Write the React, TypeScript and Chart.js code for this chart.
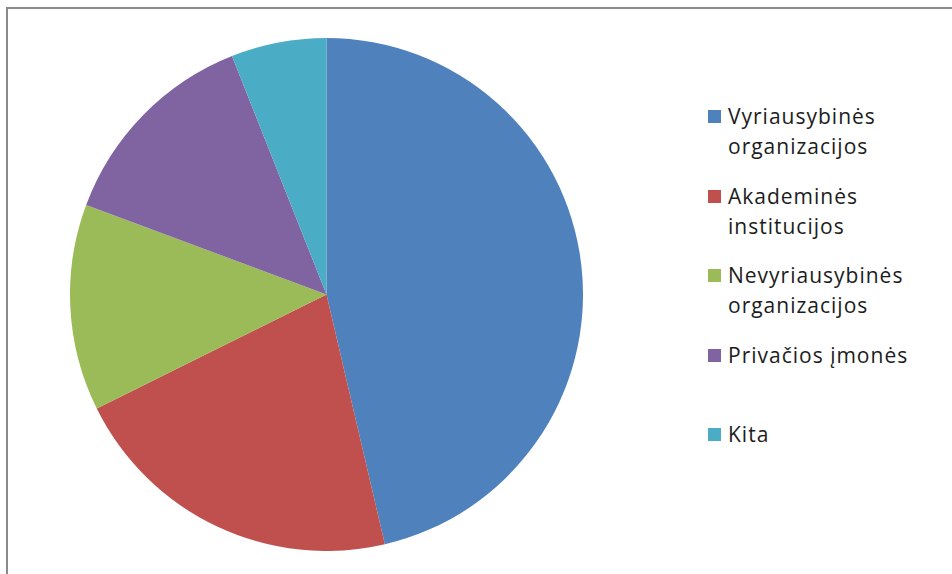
import React, { useEffect, useRef } from "react";
import { Chart, registerables } from "chart.js";

Chart.register(...registerables);

const categories: string[][] = [
  ["Vyriausybinės", "organizacijos"],
  ["Akademinės", "institucijos"],
  ["Nevyriausybinės", "organizacijos"],
  ["Privačios įmonės"],
  ["Kita"],
];
const values: number[] = [46.3, 21.3, 13.0, 13.3, 6.0];
const colors: string[] = ["#4F81BD", "#C0504D", "#9BBB59", "#8064A2", "#4BACC6"];

export default function App() {
  const ref = useRef<HTMLCanvasElement | null>(null);

  useEffect(() => {
    if (!ref.current) return;
    const chart = new Chart(ref.current, {
      type: "pie",
      data: {
        labels: categories.map((c) => c.join(" ")),
        datasets: [
          {
            data: values,
            backgroundColor: colors,
            borderWidth: 0,
          },
        ],
      },
      options: {
        animation: false,
        responsive: false,
        maintainAspectRatio: false,
        layout: { padding: 0 },
        plugins: {
          legend: { display: false },
          tooltip: { enabled: false },
        },
      },
    });
    return () => chart.destroy();
  }, []);

  return (
    <div
      style={{
        position: "fixed",
        left: 0,
        top: 0,
        width: 952,
        height: 574,
        overflow: "hidden",
        background: "#fff",
      }}
    >
      <div
        style={{
          position: "absolute",
          left: 6,
          top: 7,
          width: 1000,
          height: 700,
          borderTop: "2px solid #8a8a8a",
          borderLeft: "2px solid #8a8a8a",
        }}
      />
      <canvas
        ref={ref}
        width={513}
        height={513}
        style={{ position: "absolute", left: 70, top: 38, width: 513, height: 513 }}
      />
      {categories.map((lines, i) => (
        <div
          key={i}
          style={{
            position: "absolute",
            left: 708,
            top: 101 + i * 79.5,
            width: 240,
          }}
        >
          <div
            style={{
              position: "absolute",
              left: 0,
              top: 9,
              width: 13,
              height: 13,
              background: colors[i],
            }}
          />
          <div
            style={{
              position: "absolute",
              left: 20,
              top: 0,
              fontFamily: "'Open Sans', sans-serif",
              fontSize: 21,
              lineHeight: "30px",
              letterSpacing: 1,
              color: "#1c1c1c",
              whiteSpace: "nowrap",
            }}
          >
            {lines.map((l, j) => (
              <div key={j}>{l}</div>
            ))}
          </div>
        </div>
      ))}
    </div>
  );
}
